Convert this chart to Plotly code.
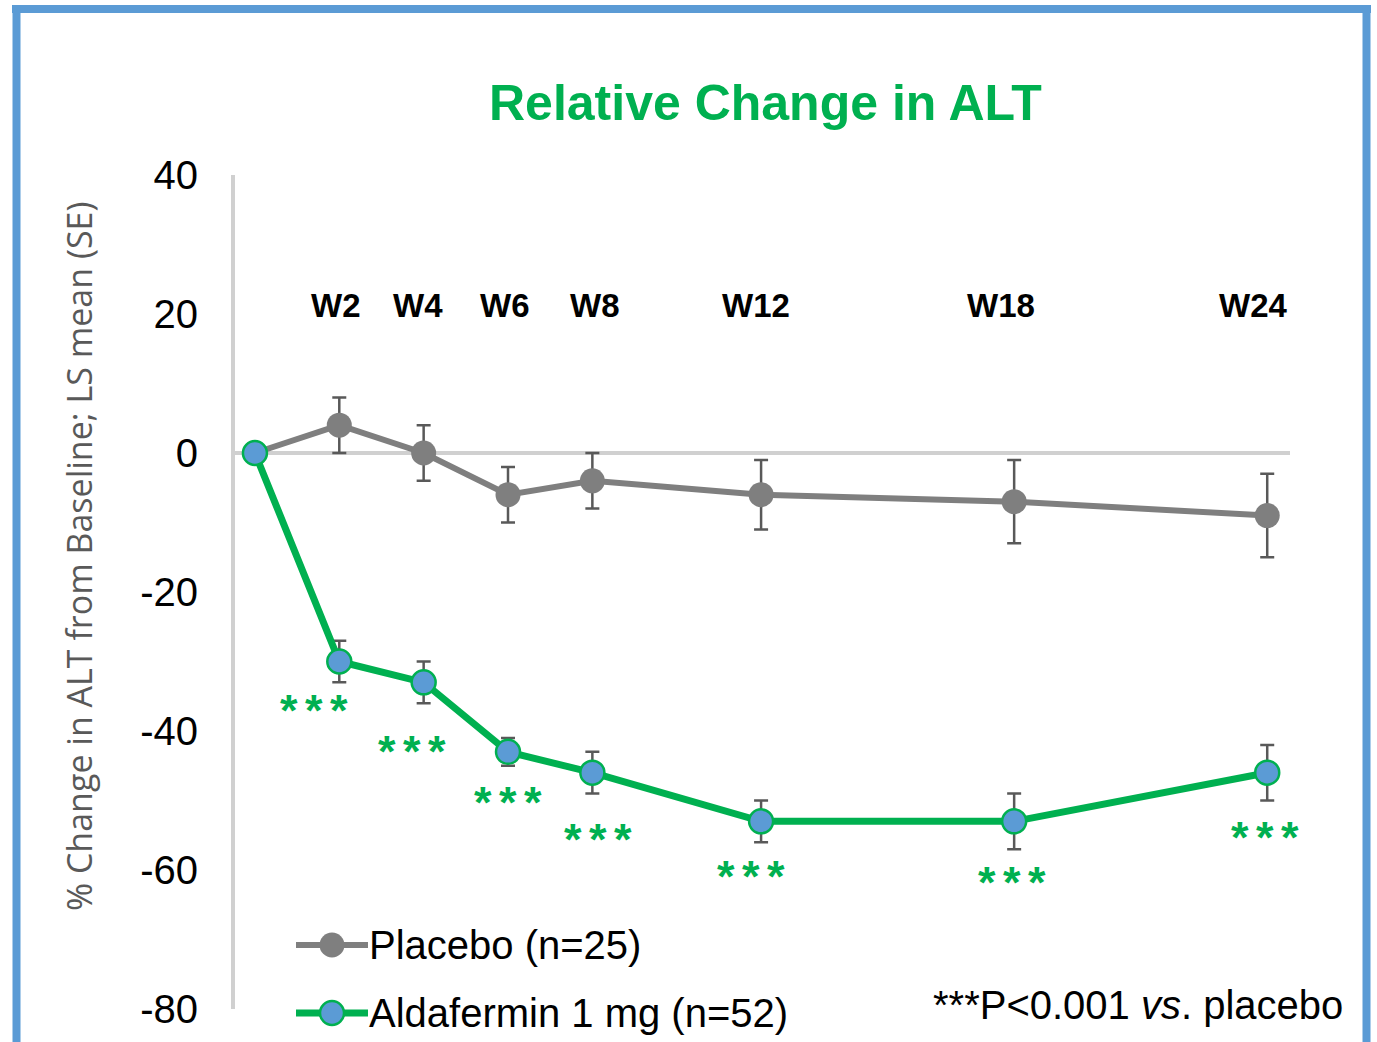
import plotly.graph_objects as go

# ---- data ----
weeks = [0, 2, 4, 6, 8, 12, 18, 24]
week_labels = ["", "W2", "W4", "W6", "W8", "W12", "W18", "W24"]
placebo_mean = [0, 4, 0, -6, -4, -6, -7, -9]
placebo_se = [0, 4, 4, 4, 4, 5, 6, 6]
alda_mean = [0, -30, -33, -43, -46, -53, -53, -46]
alda_se = [0, 3, 3, 2, 3, 3, 4, 4]
sig_labels = ["", "***", "***", "***", "***", "***", "***", "***"]
y_ticks = [40, 20, 0, -20, -40, -60, -80]

# ---- layout geometry (pixels) ----
W, H = 1377, 1042
L, R, T, B = 233, 1290, 175, 1009
XR = [-0.52, 24.54]
YR = [-80, 40]

def px(x):
    return (x - L) / (R - L)

def py(y):
    return (B - y) / (B - T)

GREEN = "#00B050"
BLUE = "#5B9BD5"
GRAY = "#7F7F7F"
ERR = "#595959"
AXIS = "#D0D0D0"
FONT = "Liberation Sans, Arial, sans-serif"

fig = go.Figure()

fig.add_trace(go.Scatter(
    x=weeks, y=placebo_mean, mode="lines+markers", name="Placebo (n=25)",
    line=dict(color=GRAY, width=6),
    marker=dict(color=GRAY, size=25, line=dict(width=0)),
    error_y=dict(type="data", array=placebo_se, color=ERR, thickness=2.5, width=7),
    showlegend=False,
))
fig.add_trace(go.Scatter(
    x=weeks, y=alda_mean, mode="lines+markers", name="Aldafermin 1 mg (n=52)",
    line=dict(color=GREEN, width=7),
    marker=dict(color=BLUE, size=24, line=dict(color=GREEN, width=2.5)),
    error_y=dict(type="data", array=alda_se, color=ERR, thickness=2.5, width=7),
    showlegend=False,
))

shapes = []
# zero line and y axis line
shapes.append(dict(type="line", xref="x", yref="y", x0=XR[0], x1=XR[1], y0=0, y1=0,
                   line=dict(color=AXIS, width=4), layer="below"))
shapes.append(dict(type="line", xref="paper", yref="paper", x0=0, x1=0, y0=0, y1=1,
                   line=dict(color=AXIS, width=4), layer="below"))
# blue frame
shapes.append(dict(type="line", xref="paper", yref="paper", x0=px(12), x1=px(1371), y0=py(9), y1=py(9),
                   line=dict(color=BLUE, width=8)))
shapes.append(dict(type="line", xref="paper", yref="paper", x0=px(16.5), x1=px(16.5), y0=py(5), y1=py(1060),
                   line=dict(color=BLUE, width=8)))
shapes.append(dict(type="line", xref="paper", yref="paper", x0=px(1366.5), x1=px(1366.5), y0=py(5), y1=py(1060),
                   line=dict(color=BLUE, width=8)))

annotations = []
# title
annotations.append(dict(text="<b>Relative Change in ALT</b>", xref="paper", yref="paper",
                        x=px(765), y=py(103), xanchor="center", yanchor="middle", showarrow=False,
                        font=dict(family=FONT, size=50, color=GREEN)))
# y-axis title
annotations.append(dict(text="% Change in ALT from Baseline; LS mean (SE)", xref="paper", yref="paper",
                        x=px(79), y=py(557), xanchor="center", yanchor="middle", textangle=-90,
                        showarrow=False, font=dict(family="Open Sans, sans-serif", size=34, color="#595959")))
# week labels
label_shift = [0, -3, -6, -3, 3, -5, -13, -14]
for wk, lab, dx in zip(weeks, week_labels, label_shift):
    if lab:
        annotations.append(dict(text="<b>%s</b>" % lab, xref="x", yref="paper", x=wk, y=py(305), xshift=dx,
                                xanchor="center", yanchor="middle", showarrow=False,
                                font=dict(family=FONT, size=33, color="black")))
# significance stars
star_shift = [(0, 0), (-25, -41), (-12, -61), (0, -43), (6, -59), (-10, -47), (-2, -53), (-2, -57)]
for wk, m, lab, (dx, dy) in zip(weeks, alda_mean, sig_labels, star_shift):
    if lab:
        txt = "<b>" + "\u2006".join(lab) + "</b>"
        annotations.append(dict(text=txt, xref="x", yref="y", x=wk, y=m, xshift=dx, yshift=dy - 8,
                                xanchor="center", yanchor="middle", showarrow=False,
                                font=dict(family=FONT, size=45, color=GREEN)))

# manual legend
legend_items = [("Placebo (n=25)", GRAY, GRAY, 945, 6, 25, 0),
                ("Aldafermin 1 mg (n=52)", GREEN, BLUE, 1013, 7, 24, 2.5)]
for name, lc, mc, yy, lw, ms, mlw in legend_items:
    shapes.append(dict(type="line", xref="paper", yref="paper", x0=px(296), x1=px(368), y0=py(yy), y1=py(yy),
                       line=dict(color=lc, width=lw)))
    r = ms / 2
    shapes.append(dict(type="circle", xref="paper", yref="paper", x0=px(332 - r), x1=px(332 + r),
                       y0=py(yy + r), y1=py(yy - r), fillcolor=mc,
                       line=dict(color=GREEN if mlw else mc, width=mlw if mlw else 0)))
    annotations.append(dict(text=name, xref="paper", yref="paper", x=px(367), y=py(yy),
                            xanchor="left", yanchor="middle", showarrow=False,
                            font=dict(family=FONT, size=40, color="black")))
# footnote
annotations.append(dict(text="***P<0.001 <i>vs</i>. placebo", xref="paper", yref="paper", x=px(1345), y=py(1005),
                        xanchor="right", yanchor="middle", showarrow=False,
                        font=dict(family=FONT, size=40, color="black")))

fig.update_layout(
    width=W, height=H,
    margin=dict(l=L, r=W - R, t=T, b=H - B, pad=0),
    paper_bgcolor="white", plot_bgcolor="white",
    xaxis=dict(range=XR, showgrid=False, zeroline=False, showline=False, showticklabels=False, ticks=""),
    yaxis=dict(range=YR, tickvals=y_ticks, ticktext=[str(v) for v in y_ticks], showgrid=False, zeroline=False,
               showline=False, ticks="outside", ticklen=26,
               tickcolor="rgba(0,0,0,0)", tickfont=dict(family=FONT, size=40, color="black")),
    shapes=shapes, annotations=annotations, showlegend=False,
)

fig.write_html("out.html")
